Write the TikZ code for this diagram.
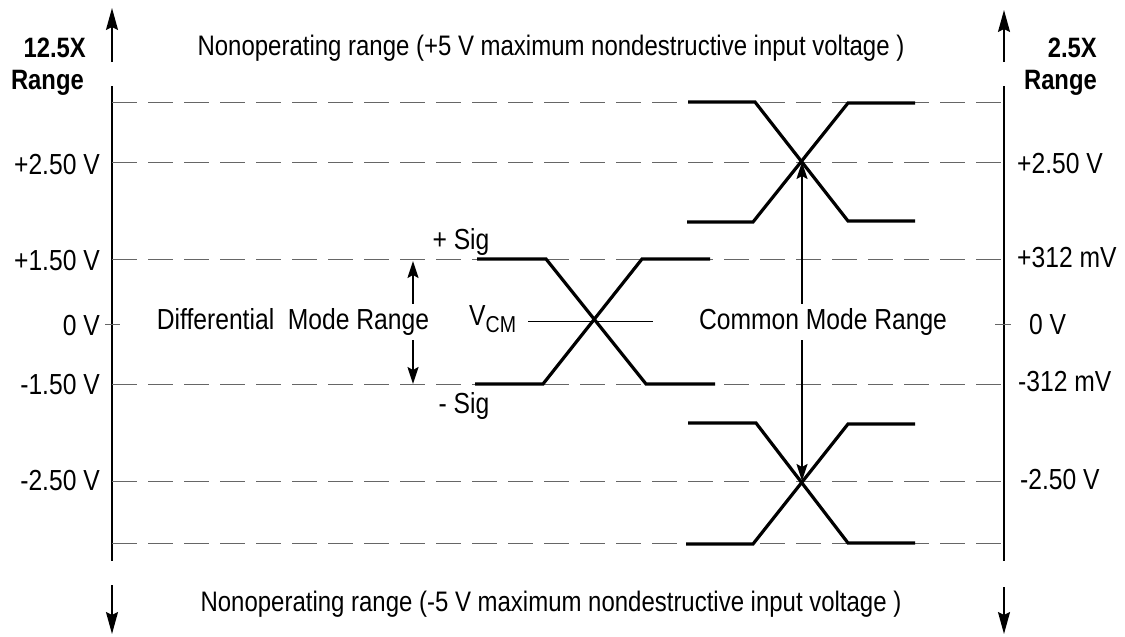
\documentclass[tikz,border=0pt]{standalone}
\usepackage{fontspec}
\setmainfont{Liberation Sans}[FakeStretch=0.85]
\usetikzlibrary{arrows.meta}
\begin{document}
\begin{tikzpicture}[x=1pt,y=-1pt,
  dline/.style={draw=black!60, line width=1pt, dash pattern=on 25pt off 11pt},
  axisline/.style={line width=1.8pt},
  sig/.style={line width=3.2pt, line join=miter},
  bigarrow/.style={line width=1.8pt, -{Stealth[length=22pt,width=12pt,inset=3pt]}},
  midarrow/.style={line width=1.8pt, {Stealth[length=17pt,width=11pt,inset=3pt]}-{Stealth[length=17pt,width=11pt,inset=3pt]}},
  lbl/.style={font=\fontsize{29}{31}\selectfont, inner sep=0pt},
  blbl/.style={font=\bfseries\fontsize{28}{32}\selectfont, inner sep=0pt, align=right},
  ttl/.style={font=\fontsize{28.2}{30}\selectfont, inner sep=0pt}
]
\useasboundingbox (0,0) rectangle (1125,637);

% axes
\coordinate (la1) at (112,62);  \coordinate (la2) at (112,8);
\coordinate (la3) at (112,86);  \coordinate (la4) at (112,561);
\coordinate (la5) at (112,585); \coordinate (la6) at (112,634);
\coordinate (ra1) at (1004,62);  \coordinate (ra2) at (1004,10);
\coordinate (ra3) at (1004,86);  \coordinate (ra4) at (1004,561);
\coordinate (ra5) at (1004,587); \coordinate (ra6) at (1004,634);
\draw[bigarrow] (la1) -- (la2);
\draw[axisline] (la3) -- (la4);
\draw[bigarrow] (la5) -- (la6);
\draw[bigarrow] (ra1) -- (ra2);
\draw[axisline] (ra3) -- (ra4);
\draw[bigarrow] (ra5) -- (ra6);

% dashed levels
\foreach \y in {102,162,259,384,481,543}
  \draw[dline] (112,\y) -- (1004,\y);
% zero ticks
\draw[draw=black!60, line width=1pt] (105,324) -- (120,324);
\draw[draw=black!60, line width=1pt] (995,324) -- (1011,324);

% headers
\node[blbl, anchor=east] (h1) at (86,48) {12.5X};
\node[blbl, anchor=east] (h2) at (84,83) {Range};
\node[blbl, anchor=east] (h3) at (1097,48) {2.5X};
\node[blbl, anchor=east] (h4) at (1097,83) {Range};

\node[ttl] (top) at (551,48) {Nonoperating range (+5 V maximum nondestructive input voltage )};
\node[ttl] (bot) at (551,604) {Nonoperating range (-5 V maximum nondestructive input voltage )};

% left labels
\node[lbl, anchor=east] (l1) at (100,165) {+2.50 V};
\node[lbl, anchor=east] (l2) at (100,261) {+1.50 V};
\node[lbl, anchor=east] (l3) at (100,326) {0 V};
\node[lbl, anchor=east] (l4) at (100,385) {-1.50 V};
\node[lbl, anchor=east] (l5) at (100,481) {-2.50 V};
% right labels
\node[lbl, anchor=west] (r1) at (1017,164) {+2.50 V};
\node[lbl, anchor=west] (r2) at (1017,258) {+312 mV};
\node[lbl, anchor=west] (r3) at (1029,325) {0 V};
\node[lbl, anchor=west] (r4) at (1018,382) {-312 mV};
\node[lbl, anchor=west] (r5) at (1020,480) {-2.50 V};

% differential signals
\draw[sig] (477,259) -- (546,259) -- (646,384) -- (715,384);
\draw[sig] (475,384) -- (543,384) -- (642,259) -- (710,259);
\draw[line width=1pt] (528,321) -- (653,321);
\node[lbl] (psig) at (461,242) {+ Sig};
\node[lbl] (msig) at (464,406) {- Sig};
\node[lbl, anchor=west] (vcm) at (469,319) {V\raisebox{-7pt}{\fontsize{23}{23}\selectfont CM}};

% differential range arrow
\coordinate (da1) at (413,261);
\coordinate (da2) at (413,384);
\draw[midarrow] (da1) -- (da2);
\node[lbl, fill=white, inner ysep=4pt, inner xsep=0pt] (dmr) at (293,322) {Differential\ \ Mode Range};

% common mode signals
\draw[sig] (688,102) -- (755,102) -- (848,221) -- (915,221);
\draw[sig] (687,222) -- (753,222) -- (848,103) -- (915,103);
\draw[sig] (688,423) -- (756,423) -- (848,543) -- (915,543);
\draw[sig] (686,544) -- (753,544) -- (848,424) -- (915,424);

\coordinate (ca1) at (802,162);
\coordinate (ca2) at (802,481);
\draw[midarrow] (ca1) -- (ca2);
\node[lbl, fill=white, inner ysep=4pt, inner xsep=2pt] (cmr) at (823,322) {Common Mode Range};
\end{tikzpicture}
\end{document}
